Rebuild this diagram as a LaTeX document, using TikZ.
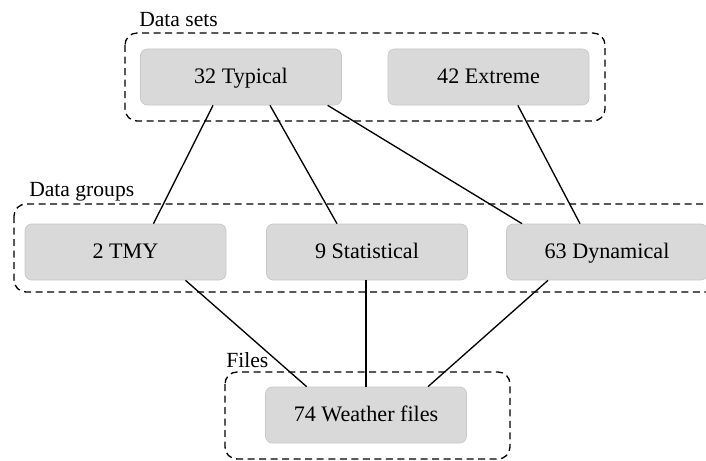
\documentclass[tikz,border=0pt]{standalone}
\usepackage{fontspec}
\setmainfont{Liberation Serif}
\usetikzlibrary{positioning}

\begin{document}
\begin{tikzpicture}[x=0.75pt,y=-0.75pt,
  box/.style={rectangle, rounded corners=5pt, fill=black!15, draw=black!22, line width=0.5pt,
    minimum width=150.75pt, minimum height=42pt, text height=9.7pt, text depth=0pt,
    font=\fontsize{16.6}{19}\selectfont},
  group/.style={line width=1pt, rounded corners=9pt, dash pattern=on 5.25pt off 3.4pt},
  grouplabel/.style={anchor=west, inner sep=0pt, font=\fontsize{16.2}{19}\selectfont},
  link/.style={line width=1pt}]
\useasboundingbox (0,0) rectangle (706,460);
\clip (0,0) rectangle (706,460);
% dashed frames and their titles
\draw[group] (125,33) rectangle (605,121);
\draw[group] (14,204) rectangle (740,292);
\draw[group] (225,372) rectangle (510,459);
\node[grouplabel] (setslbl) at (139,20) {Data sets};
\node[grouplabel] (grplbl) at (29,192) {Data groups};
\node[grouplabel] (fileslbl) at (226,360) {Files};
% box centres
\coordinate (typ0) at (241,77);
\coordinate (ext0) at (488.5,77);
\coordinate (tmy0) at (125.5,252);
\coordinate (stat0) at (367,252);
\coordinate (dyn0) at (607,252);
\coordinate (wf0) at (366,415);
% boxes
\node[box] (typ) at (typ0) {32 Typical};
\node[box] (ext) at (ext0) {42 Extreme};
\node[box] (tmy) at (tmy0) {2 TMY};
\node[box] (stat) at (stat0) {9 Statistical};
\node[box] (dyn) at (dyn0) {63 Dynamical};
\node[box] (wf) at (wf0) {74 Weather files};
% links between levels
\draw[link] ([xshift=-21pt]typ.south) -- ([xshift=21pt]tmy.north);
\draw[link] ([xshift=21.75pt]typ.south) -- ([xshift=-22.5pt]stat.north);
\draw[link] ([xshift=65pt]typ.south) -- ([xshift=-63.75pt]dyn.north);
\draw[link] ([xshift=22pt]ext.south) -- ([xshift=-20.25pt]dyn.north);
\draw[link] ([xshift=45pt]tmy.south) -- ([xshift=-44.5pt]wf.north);
\draw[link] ([xshift=-0.75pt]stat.south) -- (wf.north);
\draw[link] ([xshift=-44.25pt]dyn.south) -- ([xshift=46.5pt]wf.north);
\end{tikzpicture}
\end{document}
